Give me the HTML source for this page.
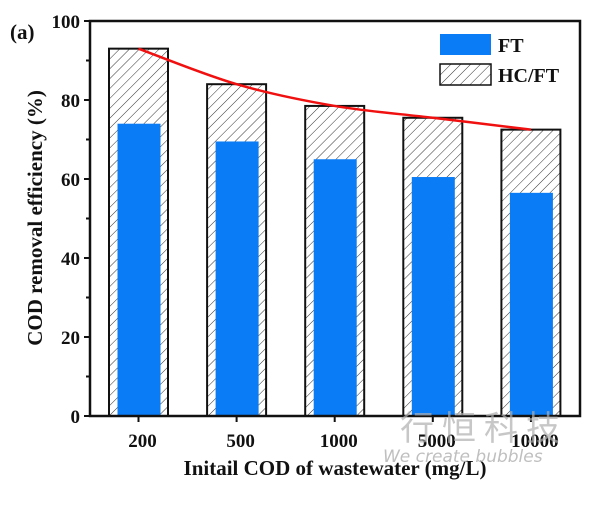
<!DOCTYPE html>
<html><head><meta charset="utf-8"><style>
body{margin:0;background:#fff}
svg text{font-family:"Liberation Serif",serif;font-weight:bold;fill:#111}
</style></head><body>
<svg width="601" height="503" viewBox="0 0 601 503">
<defs>
<pattern id="hatch" width="7" height="7" patternUnits="userSpaceOnUse" patternTransform="rotate(45)">
<rect width="7" height="7" fill="#fff"/><line x1="0" y1="0" x2="0" y2="7" stroke="#333" stroke-width="1"/>
</pattern>
</defs>
<rect width="601" height="503" fill="#fff"/>
<g id="bars"></g>
<g id="axes"></g>
<text x="10" y="39" font-size="21">(a)</text>
<text x="335" y="475" font-size="21" text-anchor="middle">Initail COD of wastewater (mg/L)</text>
<text transform="translate(42,218) rotate(-90)" font-size="21" text-anchor="middle">COD removal efficiency (%)</text>
<g>
<rect x="440" y="34" width="51" height="21" fill="#0a7cf5"/>
<text x="498" y="52" font-size="20">FT</text>
<rect x="440" y="64" width="51" height="21" fill="url(#hatch)" stroke="#111" stroke-width="1.5"/>
<text x="498" y="82" font-size="20">HC/FT</text>
</g>
<text x="400" y="440" font-size="34" style="fill:#b0b0b0;font-weight:normal;font-family:'Noto Sans CJK SC',sans-serif;letter-spacing:8px" opacity="0.7">行恒科技</text>
<text x="383" y="462" font-size="17" style="fill:#b0b0b0;font-weight:normal;font-style:italic;font-family:'DejaVu Sans',sans-serif" opacity="0.8">We create bubbles</text>
</svg>
<script>
const categories=["200","500","1000","5000","10000"];
const hcft=[93,84,78.5,75.5,72.5];
const ft=[74,69.5,65,60.5,56.5];
const yTicks=[0,20,40,60,80,100];
const NS="http://www.w3.org/2000/svg";
const L=90,R=580,T=21,B=416;
const y=v=>B-(v/100)*(B-T);
const x=i=>138.5+i*98.1;
function mk(tag,attrs,parent){const e=document.createElementNS(NS,tag);for(const k in attrs)e.setAttribute(k,attrs[k]);parent.appendChild(e);return e;}
const bars=document.getElementById('bars'),axes=document.getElementById('axes');
categories.forEach((c,i)=>{
 const h=mk('rect',{x:x(i)-29.5,y:y(hcft[i]),width:59,height:B-y(hcft[i]),fill:'url(#hatch)',stroke:'#111','stroke-width':2},bars);
 
 
 const f=mk('rect',{x:x(i)-21,y:y(ft[i]),width:43,height:B-y(ft[i]),fill:'#0a7cf5'},bars);
 
 
 const t=mk('line',{x1:x(i),x2:x(i),y1:B,y2:B+6,stroke:'#111','stroke-width':2},axes);
 
 
 const lb=mk('text',{x:x(i)+4,y:B+31,'font-size':19,'text-anchor':'middle'},axes);
 lb.textContent=c;
 
 
});
// smooth curve through points (Catmull-Rom)
const pts=hcft.map((v,i)=>[x(i)+(i==0?0:0),y(v)]);
let d='M'+pts[0][0]+','+pts[0][1];
for(let i=0;i<pts.length-1;i++){
 const p0=pts[Math.max(0,i-1)],p1=pts[i],p2=pts[i+1],p3=pts[Math.min(pts.length-1,i+2)];
 const c1=[p1[0]+(p2[0]-p0[0])/6,p1[1]+(p2[1]-p0[1])/6];
 const c2=[p2[0]-(p3[0]-p1[0])/6,p2[1]-(p3[1]-p1[1])/6];
 d+=' C'+c1[0]+','+c1[1]+' '+c2[0]+','+c2[1]+' '+p2[0]+','+p2[1];
}
const ln=mk('path',{d:d,fill:'none',stroke:'#f01010','stroke-width':2.5},bars);


const fr=mk('rect',{x:L,y:T,width:R-L,height:B-T,fill:'none',stroke:'#111','stroke-width':2.5},axes);


for(let v=0;v<=100;v+=10){
 const t=mk('line',{x1:L-(v%20==0?6:4),x2:L,y1:y(v),y2:y(v),stroke:'#111','stroke-width':2},axes);
 
 
}
yTicks.forEach(v=>{
 const t=mk('text',{x:L-10,y:y(v)+7,'font-size':19,'text-anchor':'end'},axes);
 t.textContent=v;
 
 
});
</script>
</body></html>
